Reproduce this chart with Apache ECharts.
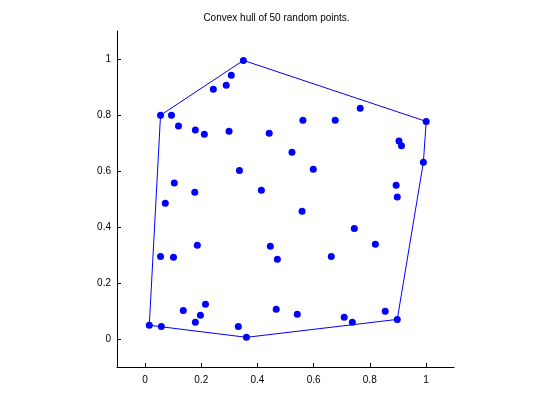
<!DOCTYPE html>
<html>
<head>
<meta charset="utf-8">
<script src="https://cdn.jsdelivr.net/npm/echarts@6/dist/echarts.min.js"></script>
<style>html,body{margin:0;padding:0;background:#fff}#c{width:553px;height:414px}</style>
</head>
<body>
<div id="c"></div>
<script>
const titleText = 'Convex hull of 50 random points.';
const xs = [0.055,0.094,0.119,0.179,0.211,0.243,0.289,0.307,0.350,0.299,
            0.442,0.562,0.523,0.336,0.104,0.177,0.414,0.766,0.677,1.001,
            0.904,0.913,0.991,0.599,0.894,0.898,0.072,0.559,0.186,0.446,
            0.471,0.055,0.101,0.215,0.136,0.197,0.179,0.015,0.058,0.332,
            0.361,0.467,0.542,0.745,0.820,0.663,0.855,0.709,0.738,0.898];
const ys = [0.799,0.799,0.761,0.746,0.731,0.892,0.906,0.942,0.995,0.742,
            0.735,0.781,0.667,0.602,0.557,0.524,0.531,0.824,0.781,0.777,
            0.707,0.690,0.631,0.606,0.549,0.507,0.485,0.456,0.335,0.331,
            0.285,0.295,0.292,0.124,0.102,0.085,0.060,0.049,0.045,0.045,
            0.006,0.106,0.088,0.395,0.338,0.295,0.099,0.078,0.060,0.070];
// indices of hull vertices (closed loop)
const hullIdx = [37, 0, 8, 19, 22, 49, 40, 37];
const xTicks = [0, 0.2, 0.4, 0.6, 0.8, 1];
const yTicks = [0, 0.2, 0.4, 0.6, 0.8, 1];

const pts = xs.map((x, i) => [x, ys[i]]);
const hull = hullIdx.map(i => [xs[i], ys[i]]);
const font = 'Liberation Sans';
const axisCommon = {
  type: 'value', min: -0.1, max: 1.1,
  splitLine: {show: false},
  axisLine: {show: true, onZero: false, lineStyle: {color: '#000', width: 1}},
  axisTick: {show: true, inside: true, length: 4, customValues: null, lineStyle: {color: '#000'}},
  axisLabel: {color: '#000', fontFamily: font, fontSize: 10, formatter: v => String(+v.toFixed(1))}
};
const chart = echarts.init(document.getElementById('c'), null, {renderer: 'canvas'});
chart.setOption({
  animation: false,
  backgroundColor: '#fff',
  title: {text: titleText, left: 'center', top: 8,
    textStyle: {fontFamily: font, fontSize: 10, fontWeight: 'normal', color: '#000'}},
  grid: {left: 117, right: 99, top: 31, bottom: 47, containLabel: false},
  xAxis: Object.assign({}, axisCommon, {
    axisTick: Object.assign({}, axisCommon.axisTick, {customValues: xTicks}),
    axisLabel: Object.assign({}, axisCommon.axisLabel, {customValues: xTicks, margin: 8})
  }),
  yAxis: Object.assign({}, axisCommon, {
    axisTick: Object.assign({}, axisCommon.axisTick, {customValues: yTicks}),
    axisLabel: Object.assign({}, axisCommon.axisLabel, {customValues: yTicks, margin: 6})
  }),
  series: [
    {type: 'line', data: hull, symbol: 'none', lineStyle: {color: '#0000ff', width: 1}, z: 2},
    {type: 'scatter', data: pts, symbol: 'circle', symbolSize: 7, itemStyle: {color: '#0000ff', opacity: 1}, z: 3}
  ]
});
</script>
</body>
</html>
